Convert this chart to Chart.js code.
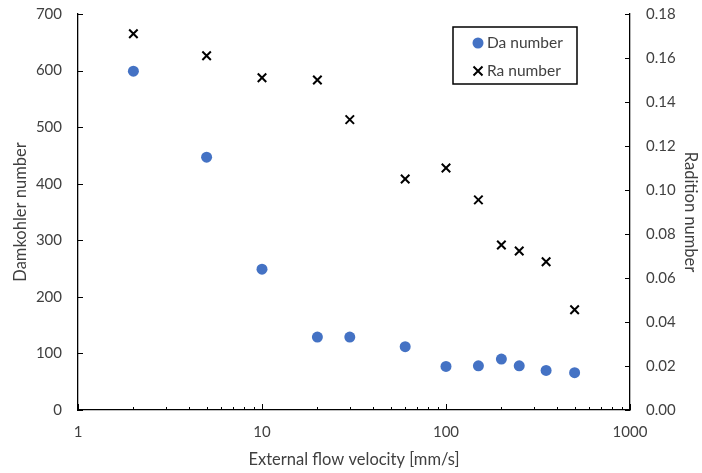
<!DOCTYPE html>
<html>
<head>
<meta charset="utf-8">
<script src="https://cdn.jsdelivr.net/npm/chart.js@4.4.0/dist/chart.umd.min.js"></script>
<style>
  html, body { margin: 0; padding: 0; background: #fff; }
  #wrap { width: 702px; height: 473px; }
</style>
</head>
<body>
<div id="wrap"><canvas id="chart" width="702" height="473"></canvas></div>
<script>
// ---- data ----
const velocity = [2, 5, 10, 20, 30, 60, 100, 150, 200, 250, 350, 500];
const daNumber = [599, 447, 249, 129, 129, 112, 77, 78, 90, 78, 70, 66];
const raNumber = [0.171, 0.161, 0.151, 0.150, 0.132, 0.105, 0.110, 0.0955, 0.075, 0.0723, 0.0674, 0.0456];
const xTicks = [1, 2, 3, 4, 5, 6, 7, 8, 9, 10, 20, 30, 40, 50, 60, 70, 80, 90,
                100, 200, 300, 400, 500, 600, 700, 800, 900, 1000];

const FONT = "Lato, 'Open Sans', sans-serif";
const TXT = "#404040";

function isDecade(v) {
    const l = Math.log10(v);
    return Math.abs(l - Math.round(l)) < 1e-9;
}

// inward tick marks like the original (Chart.js draws them outward)
const innerTicks = {
    id: "innerTicks",
    afterDraw(chart) {
        const ctx = chart.ctx;
        const area = chart.chartArea;
        const { x, y, y2 } = chart.scales;
        ctx.save();
        ctx.strokeStyle = "#000";
        ctx.lineWidth = 1;
        ctx.beginPath();
        x.ticks.forEach(t => {
            const px = Math.round(x.getPixelForValue(t.value)) + 0.5;
            const len = isDecade(t.value) ? 6 : 3;
            ctx.moveTo(px, area.bottom);
            ctx.lineTo(px, area.bottom - len);
        });
        y.ticks.forEach(t => {
            const py = Math.round(y.getPixelForValue(t.value)) + 0.5;
            ctx.moveTo(area.left, py);
            ctx.lineTo(area.left + 5, py);
        });
        y2.ticks.forEach(t => {
            const py = Math.round(y2.getPixelForValue(t.value)) + 0.5;
            ctx.moveTo(area.right, py);
            ctx.lineTo(area.right - 5, py);
        });
        ctx.stroke();
        ctx.restore();
    }
};

// legend box inside the plot, top right
const boxLegend = {
    id: "boxLegend",
    afterDraw(chart) {
        const ctx = chart.ctx;
        const bx = 453, by = 27, bw = 124, bh = 57;
        ctx.save();
        ctx.fillStyle = "#fff";
        ctx.fillRect(bx, by, bw, bh);
        ctx.strokeStyle = "#000";
        ctx.lineWidth = 1.5;
        ctx.strokeRect(bx, by, bw, bh);
        ctx.font = "15.5px " + FONT;
        ctx.textBaseline = "middle";
        chart.data.datasets.forEach((ds, i) => {
            const cy = 43 + i * 28;
            ctx.fillStyle = ds.backgroundColor;
            ctx.strokeStyle = ds.borderColor;
            ctx.lineWidth = ds.borderWidth;
            ctx.beginPath();
            if (ds.pointStyle === "circle") {
                ctx.arc(478, cy, 5.5, 0, Math.PI * 2);
                ctx.fill();
            } else {
                const r = 4.5;
                ctx.moveTo(478 - r, cy - r); ctx.lineTo(478 + r, cy + r);
                ctx.moveTo(478 - r, cy + r); ctx.lineTo(478 + r, cy - r);
                ctx.stroke();
            }
            ctx.fillStyle = TXT;
            ctx.fillText(ds.label, 487, cy);
        });
        ctx.restore();
    }
};

function fixWidth(w) {
    return s => { s.width = w; s.paddingTop = 0; s.paddingBottom = 0; };
}

new Chart(document.getElementById("chart"), {
    type: "scatter",
    data: {
        datasets: [
            {
                label: "Da number",
                data: velocity.map((v, i) => ({ x: v, y: daNumber[i] })),
                yAxisID: "y",
                pointStyle: "circle",
                pointRadius: 5.5,
                pointHoverRadius: 5.5,
                backgroundColor: "#4472C4",
                borderColor: "#4472C4",
                borderWidth: 0
            },
            {
                label: "Ra number",
                data: velocity.map((v, i) => ({ x: v, y: raNumber[i] })),
                yAxisID: "y2",
                pointStyle: "crossRot",
                pointRadius: 6,
                pointHoverRadius: 6,
                backgroundColor: "#000",
                borderColor: "#000",
                borderWidth: 2
            }
        ]
    },
    options: {
        responsive: false,
        animation: false,
        events: [],
        layout: { padding: { top: 14, left: 0, right: 0, bottom: 0 } },
        plugins: { legend: { display: false }, tooltip: { enabled: false } },
        scales: {
            x: {
                type: "logarithmic",
                min: 1,
                max: 1000,
                afterBuildTicks: s => { s.ticks = xTicks.map(v => ({ value: v })); },
                afterFit: s => { s.height = 63; s.paddingLeft = 0; s.paddingRight = 0; },
                grid: { display: false, drawTicks: false },
                border: { display: true, color: "#000", width: 1.3 },
                ticks: {
                    autoSkip: false,
                    maxRotation: 0,
                    padding: 13,
                    color: TXT,
                    font: { family: FONT, size: 15 },
                    callback: v => isDecade(v) ? String(v) : ""
                },
                title: {
                    display: true,
                    text: "External flow velocity [mm/s]",
                    color: TXT,
                    font: { family: FONT, size: 16.5 },
                    padding: { top: 0, bottom: 3 }
                }
            },
            y: {
                position: "left",
                min: 0,
                max: 700,
                afterFit: fixWidth(78),
                grid: { display: false, drawTicks: false },
                border: { display: true, color: "#000", width: 1.3 },
                ticks: {
                    stepSize: 100,
                    padding: 16,
                    color: TXT,
                    font: { family: FONT, size: 15 }
                },
                title: {
                    display: true,
                    text: "Damkohler number",
                    color: TXT,
                    font: { family: FONT, size: 16.5 },
                    padding: { top: 11, bottom: 0 }
                }
            },
            y2: {
                position: "right",
                min: 0,
                max: 0.18,
                afterFit: fixWidth(72),
                grid: { display: false, drawTicks: false },
                border: { display: true, color: "#000", width: 1.3 },
                ticks: {
                    stepSize: 0.02,
                    padding: 16,
                    color: TXT,
                    font: { family: FONT, size: 15 },
                    callback: v => v.toFixed(2)
                },
                title: {
                    display: true,
                    text: "Radition number",
                    color: TXT,
                    font: { family: FONT, size: 16.5 },
                    padding: { top: 2, bottom: 0 }
                }
            }
        }
    },
    plugins: [innerTicks, boxLegend]
});
</script>
</body>
</html>
